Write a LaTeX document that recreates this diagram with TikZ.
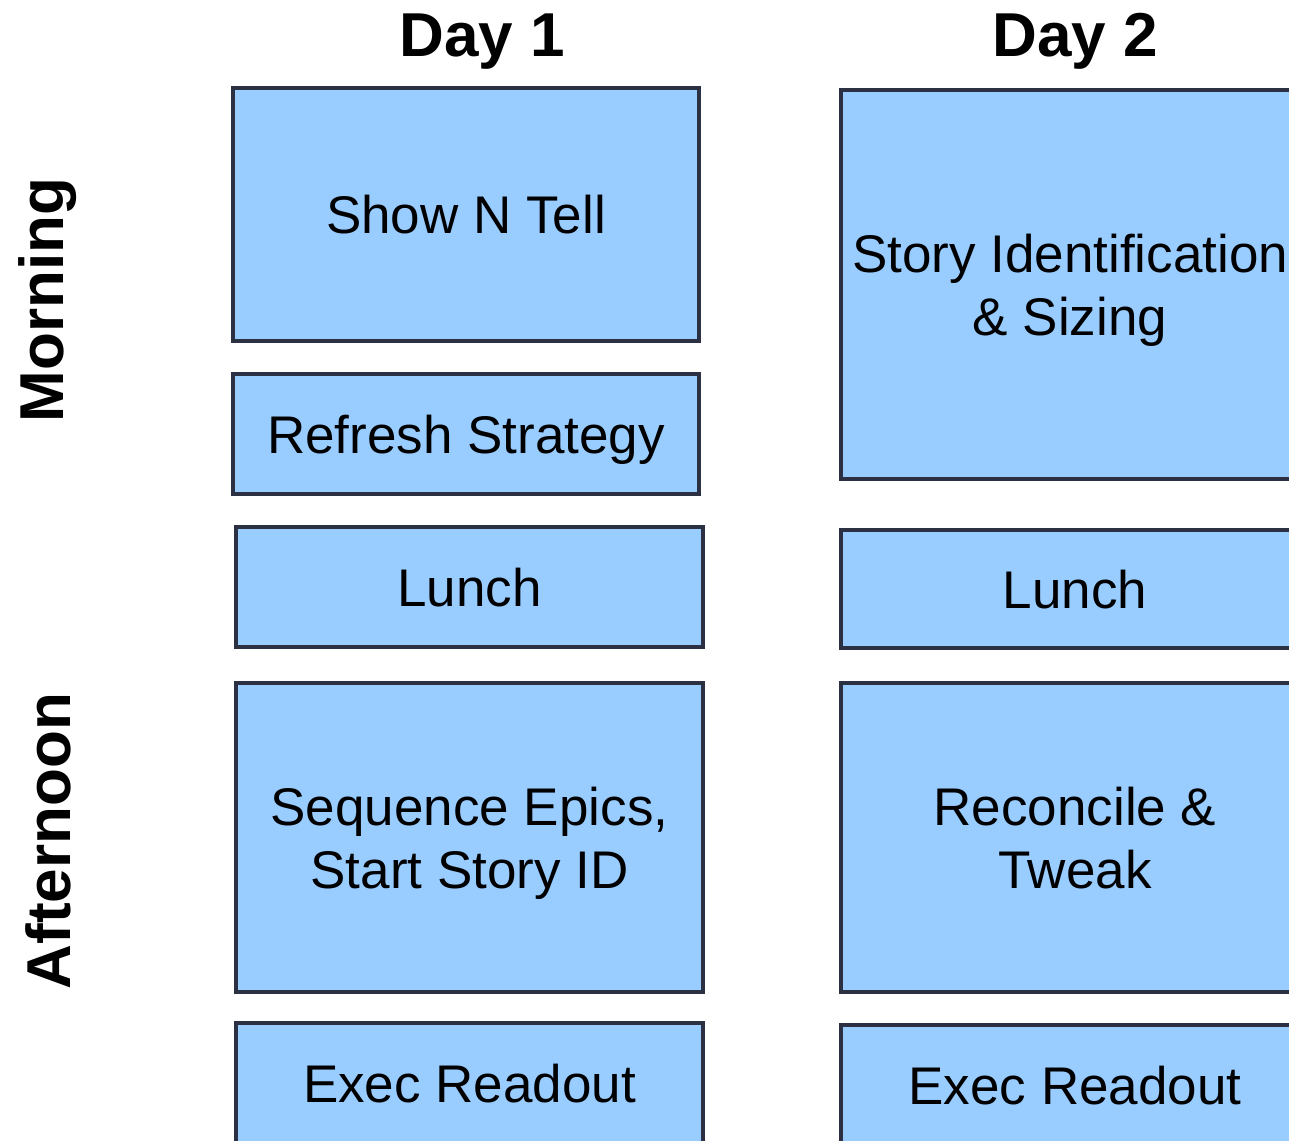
\documentclass[tikz,border=0pt]{standalone}
\usepackage{fontspec}
\setmainfont{Liberation Sans}
\usepackage{xcolor}
\usepackage{tikz}
\usetikzlibrary{positioning}

\definecolor{slotfill}{HTML}{99CCFF}
\definecolor{slotline}{HTML}{2B3142}

\begin{document}
\begin{tikzpicture}[
  x=0.5pt,y=-0.5pt,
  slot/.style={rectangle,draw=slotline,fill=slotfill,line width=2pt,
    align=center,inner sep=0pt,text depth=0pt,font=\fontsize{26.5}{31.5}\selectfont},
  dayhead/.style={text depth=0pt,font=\fontsize{31}{36}\selectfont\bfseries},
  parthead/.style={font=\fontsize{31}{36}\selectfont\bfseries,rotate=90}]
\useasboundingbox (0,0) rectangle (1289,1140);
\clip (0,0) rectangle (1289,1140);
% day 1
\node[slot,minimum width=233pt,minimum height=126.5pt] (show) at (466,214.5) {Show N Tell};
\node[slot,minimum width=233pt,minimum height=60pt] (refresh) at (466,434) {Refresh Strategy};
\node[slot,minimum width=233.5pt,minimum height=60pt] (lunchA) at (469.5,587) {Lunch};
\node[slot,minimum width=233.5pt,minimum height=154.5pt] (seqA) at (469.5,837.5) {Sequence Epics,\\Start Story ID};
\node[slot,minimum width=233.5pt,minimum height=60pt] (execA) at (469.5,1083) {Exec Readout};
% day 2
\node[slot,minimum width=229pt,minimum height=194.5pt] (storyB) at (1070,284.5) {Story Identification\\\& Sizing};
\node[slot,minimum width=234pt,minimum height=59pt] (lunchB) at (1075,589) {Lunch};
\node[slot,minimum width=234pt,minimum height=154.5pt] (reconB) at (1075,837.5) {Reconcile \&\\Tweak};
\node[slot,minimum width=234pt,minimum height=60pt] (execB) at (1075,1085) {Exec Readout};
% headings
\node[dayhead] (day1) at (482,35) {Day 1};
\node[dayhead] (day2) at (1075,35) {Day 2};
\node[parthead] (morning) at (48,300) {Morning};
\node[parthead] (afternoon) at (48,841) {Afternoon};
\end{tikzpicture}
\end{document}
